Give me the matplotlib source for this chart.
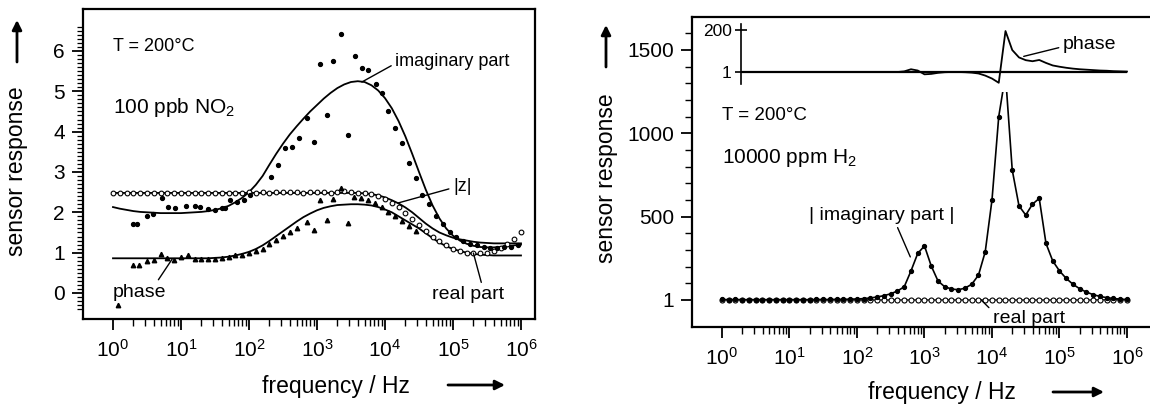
import matplotlib
matplotlib.use('Agg')
from matplotlib import pyplot as plt
from matplotlib.ticker import FixedLocator, NullFormatter

plt.rcParams['font.family'] = ['Liberation Sans', 'DejaVu Sans']
plt.rcParams['mathtext.default'] = 'regular'

# common frequency grid (log10 f / Hz), 10 points per decade
grid_logf = [0.0, 0.1, 0.2, 0.3, 0.4, 0.5, 0.6, 0.7, 0.8, 0.9,
             1.0, 1.1, 1.2, 1.3, 1.4, 1.5, 1.6, 1.7, 1.8, 1.9,
             2.0, 2.1, 2.2, 2.3, 2.4, 2.5, 2.6, 2.7, 2.8, 2.9,
             3.0, 3.1, 3.2, 3.3, 3.4, 3.5, 3.6, 3.7, 3.8, 3.9,
             4.0, 4.1, 4.2, 4.3, 4.4, 4.5, 4.6, 4.7, 4.8, 4.9,
             5.0, 5.1, 5.2, 5.3, 5.4, 5.5, 5.6, 5.7, 5.8, 5.9, 6.0]
decades = [0, 1, 2, 3, 4, 5, 6]

# ---------------- left: 100 ppb NO2 ----------------
imag_fit = [2.13, 2.09, 2.06, 2.03, 2.01, 2.00, 1.99, 1.98, 1.98, 1.98,
            1.98, 1.99, 2.00, 2.01, 2.03, 2.06, 2.10, 2.16, 2.25, 2.36,
            2.50, 2.68, 2.90, 3.18, 3.45, 3.70, 3.93, 4.13, 4.32, 4.50,
            4.66, 4.82, 4.96, 5.08, 5.17, 5.23, 5.25, 5.23, 5.15, 5.02,
            4.83, 4.58, 4.26, 3.88, 3.45, 3.00, 2.56, 2.17, 1.85, 1.60,
            1.42, 1.30, 1.22, 1.17, 1.14, 1.13, 1.13, 1.14, 1.16, 1.18, 1.20]
absz_fit = [2.48, 2.48, 2.48, 2.48, 2.48, 2.48, 2.48, 2.48, 2.48, 2.48,
            2.48, 2.48, 2.48, 2.48, 2.48, 2.48, 2.48, 2.48, 2.48, 2.48,
            2.48, 2.48, 2.48, 2.48, 2.48, 2.48, 2.48, 2.48, 2.48, 2.48,
            2.48, 2.48, 2.48, 2.48, 2.48, 2.48, 2.48, 2.47, 2.45, 2.42,
            2.37, 2.30, 2.22, 2.12, 2.00, 1.86, 1.72, 1.60, 1.50, 1.43,
            1.37, 1.33, 1.30, 1.27, 1.25, 1.24, 1.23, 1.23, 1.23, 1.23, 1.23]
phase_fit = [0.86, 0.86, 0.86, 0.86, 0.86, 0.86, 0.86, 0.86, 0.86, 0.86,
             0.86, 0.86, 0.86, 0.86, 0.86, 0.87, 0.88, 0.90, 0.93, 0.97,
             1.02, 1.09, 1.18, 1.29, 1.41, 1.53, 1.65, 1.77, 1.88, 1.97,
             2.05, 2.11, 2.15, 2.18, 2.19, 2.20, 2.20, 2.19, 2.17, 2.13,
             2.07, 2.00, 1.90, 1.80, 1.70, 1.60, 1.48, 1.36, 1.25, 1.16,
             1.09, 1.04, 1.00, 0.97, 0.95, 0.94, 0.93, 0.93, 0.93, 0.93, 0.93]
real_pts = [2.47, 2.48, 2.47, 2.48, 2.47, 2.48, 2.47, 2.48, 2.47, 2.48,
            2.47, 2.48, 2.47, 2.48, 2.47, 2.48, 2.47, 2.48, 2.47, 2.48,
            2.50, 2.49, 2.50, 2.49, 2.50, 2.50, 2.51, 2.50, 2.49, 2.50,
            2.51, 2.50, 2.49, 2.50, 2.52, 2.50, 2.49, 2.48, 2.45, 2.40,
            2.33, 2.24, 2.12, 1.98, 1.84, 1.68, 1.53, 1.40, 1.28, 1.18,
            1.10, 1.04, 1.00, 0.98, 0.98, 1.00, 1.05, 1.12, 1.22, 1.35, 1.50]
imag_pts_logf = [0.30, 0.36, 0.50, 0.59, 0.72, 0.81, 0.91, 1.08, 1.21, 1.28,
                 1.40, 1.50, 1.60, 1.65, 1.72, 1.82, 1.92, 2.01, 2.33, 2.43,
                 2.53, 2.63, 2.74, 2.85, 2.95, 3.04, 3.15, 3.24, 3.36, 3.46,
                 3.56, 3.66, 3.75, 3.87, 3.95, 4.05, 4.15, 4.25, 4.36, 4.46,
                 4.55, 4.65, 4.75, 4.85, 4.95, 5.05, 5.15, 5.25, 5.35, 5.45,
                 5.55, 5.65, 5.75, 5.85, 5.95]
imag_pts = [1.72, 1.72, 1.90, 1.95, 2.35, 2.14, 2.10, 2.16, 2.16, 2.13,
            2.08, 2.06, 2.10, 2.11, 2.31, 2.26, 2.31, 2.43, 2.88, 3.17,
            3.59, 3.63, 3.83, 4.33, 3.75, 5.67, 4.41, 5.75, 6.41, 3.92,
            5.88, 5.57, 5.53, 5.18, 4.97, 4.52, 4.08, 3.73, 3.23, 2.84,
            2.43, 2.20, 1.92, 1.70, 1.52, 1.40, 1.30, 1.22, 1.18, 1.15,
            1.12, 1.12, 1.13, 1.15, 1.18]
phase_pts_logf = [0.07, 0.30, 0.38, 0.50, 0.60, 0.70, 0.80, 0.90, 1.00, 1.10,
                  1.20, 1.30, 1.40, 1.50, 1.60, 1.70, 1.80, 1.90, 2.00, 2.10,
                  2.20, 2.30, 2.40, 2.50, 2.60, 2.70, 2.85, 2.95, 3.04, 3.14,
                  3.24, 3.35, 3.46, 3.55, 3.65, 3.75, 3.85, 3.95, 4.05, 4.15,
                  4.25, 4.35, 4.45]
phase_pts = [-0.30, 0.69, 0.70, 0.80, 0.82, 0.97, 0.86, 0.83, 0.90, 0.95,
             0.85, 0.84, 0.85, 0.84, 0.86, 0.90, 0.93, 0.95, 0.98, 1.03,
             1.10, 1.22, 1.32, 1.42, 1.50, 1.62, 1.77, 1.56, 2.31, 1.81,
             2.33, 2.60, 1.73, 2.39, 2.35, 2.30, 2.22, 2.12, 2.00, 1.90,
             1.78, 1.66, 1.53]

# ---------------- right: 10000 ppm H2 ----------------
h2_imag = [4, 3, 4, 3, 3, 3, 3, 3, 3, 3,
           3, 3, 3, 3, 4, 4, 4, 5, 5, 6,
           7, 9, 13, 19, 27, 38, 55, 80, 175, 280,
           325, 205, 115, 80, 67, 62, 72, 95, 150, 290,
           600, 1100, 1350, 780, 565, 510, 575, 610, 340, 235,
           175, 130, 95, 68, 48, 33, 22, 15, 10, 6, 4]
h2_real = [2, 2, 2, 2, 2, 2, 2, 2, 2, 2,
           2, 2, 2, 2, 2, 2, 2, 2, 2, 2,
           1, 1, 1, 1, 1, 1, 1, 1, 1, 1,
           1, 1, 1, 1, 1, 1, 1, 1, 1, 1,
           1, 1, 1, 1, 1, 1, 1, 1, 1, 1,
           1, 1, 1, 1, 1, 1, 2, 2, 2, 2, 2]
h2_phase_logf = grid_logf[3:]
h2_phase = [1, 1, 1, 1, 1, 1, 1, 1, 1, 1,
            1, 1, 1, 1, 1, 1, 1, 1, 1, 1,
            1, 1, 1, 1, 4, 14, 8, -10, -8, -3,
            0, 1, 1, 0, -2, -6, -16, -30, -50, 195,
            105, 70, 57, 52, 58, 44, 32, 26, 21, 17,
            14, 12, 10, 8, 7, 5, 4, 3]

W, H = 1150, 407
fig = plt.figure(figsize=(W / 100, H / 100), dpi=100)


def px_axes(left, top, right, bottom):
    return fig.add_axes([left / W, 1 - bottom / H, (right - left) / W, (bottom - top) / H])


def f(logs):
    return [10 ** v for v in logs]


def style_xaxis(ax):
    ax.set_xscale('log')
    ax.xaxis.set_major_locator(FixedLocator(f(decades)))
    ax.xaxis.set_minor_locator(FixedLocator([m * 10 ** d for d in decades[:-1] for m in range(2, 10)]))
    ax.xaxis.set_minor_formatter(NullFormatter())
    ax.set_xticklabels(['$10^{%d}$' % d for d in decades])
    ax.tick_params(axis='x', which='major', direction='out', length=8, width=1.3, labelsize=15, pad=6)
    ax.tick_params(axis='x', which='minor', direction='out', length=5, width=1.0)
    for s in ax.spines.values():
        s.set_linewidth(1.6)


# ---- left panel ----
ax1 = px_axes(83, 9, 535, 319)
ax1.plot(f(grid_logf), imag_fit, color='black', lw=1.3)
ax1.plot(f(grid_logf), absz_fit, color='black', lw=1.3)
ax1.plot(f(grid_logf), phase_fit, color='black', lw=1.3)
ax1.plot(f(grid_logf), real_pts, 'o', ms=3.4, mfc='white', mec='black', mew=0.8)
ax1.plot(f(imag_pts_logf), imag_pts, 'o', ms=2.8, color='black')
ax1.plot(f(phase_pts_logf), phase_pts, '^', ms=3.2, color='black')
style_xaxis(ax1)
ax1.set_xlim(10 ** -0.441, 10 ** 6.206)
ax1.set_ylim(-0.645, 7.04)
ax1.yaxis.set_major_locator(FixedLocator([0, 1, 2, 3, 4, 5, 6]))
ax1.yaxis.set_minor_locator(FixedLocator([v / 10 for v in range(-4, 67)]))
ax1.tick_params(axis='y', which='major', direction='out', length=8, width=1.3, labelsize=15, pad=5)
ax1.tick_params(axis='y', which='minor', direction='out', length=4, width=0.9)

ax1.text(1, 6.12, 'T = 200°C', fontsize=13, va='center')
ax1.text(1, 4.59, '100 ppb NO$_{2}$', fontsize=15, va='center')
line = dict(arrowstyle='-', color='black', lw=1.0, shrinkA=1, shrinkB=0)
ax1.annotate('imaginary part', xy=(10 ** 3.66, 5.23), xytext=(10 ** 4.15, 5.73),
             fontsize=13, ha='left', va='center', arrowprops=dict(line, relpos=(0, 0.4)))
ax1.annotate('|z|', xy=(10 ** 4.19, 2.23), xytext=(10 ** 5.0, 2.65),
             fontsize=13, ha='left', va='center', arrowprops=dict(line, relpos=(0, 0.4)))
ax1.annotate('phase', xy=(10 ** 0.87, 0.84), xytext=(10 ** 0.0, 0.02),
             fontsize=14, ha='left', va='center', arrowprops=dict(line, relpos=(0.8, 1.0)))
ax1.annotate('real part', xy=(10 ** 5.3, 0.99), xytext=(10 ** 4.69, -0.05),
             fontsize=14, ha='left', va='center', arrowprops=dict(line, relpos=(0.7, 1.0)))

# ---- right panel ----
ax2 = px_axes(692, 17, 1160, 327)
ax2.plot(f(grid_logf), h2_real, '-o', color='black', lw=0.9, ms=3.6, mfc='white', mew=0.8)
ax2.plot(f(grid_logf), h2_imag, '-o', color='black', lw=1.2, ms=2.8)
style_xaxis(ax2)
ax2.spines['right'].set_visible(False)
ax2.set_xlim(10 ** -0.444, 10 ** 6.489)
ax2.set_ylim(-161, 1697)
ax2.yaxis.set_major_locator(FixedLocator([1, 500, 1000, 1500]))
ax2.yaxis.set_minor_locator(FixedLocator([100, 200, 300, 400, 600, 700, 800, 900,
                                          1100, 1200, 1300, 1400, 1600]))
ax2.tick_params(axis='y', which='major', direction='out', length=8, width=1.3, labelsize=15, pad=5)
ax2.tick_params(axis='y', which='minor', direction='out', length=5, width=1.0)

ax2.text(1, 1109, 'T = 200°C', fontsize=13.5, va='center')
ax2.text(1, 852, '10000 ppm H$_{2}$', fontsize=15, va='center')
ax2.annotate('| imaginary part |', xy=(10 ** 2.79, 259), xytext=(10 ** 2.36, 510),
             fontsize=14, ha='center', va='center', arrowprops=dict(line, relpos=(0.6, 0.0)))
ax2.annotate('real part', xy=(10 ** 3.84, 1), xytext=(10 ** 4.01, -108),
             fontsize=14, ha='left', va='center', arrowprops=dict(line, relpos=(0.0, 0.9)))

# phase inset on top of the right panel
ax3 = px_axes(695, 19, 1160, 92)
ax3.set_facecolor('white')
ax3.set_xscale('log')
ax3.set_xlim(10 ** ((695 - 722) / 67.5), 10 ** 6.489)
ax3.set_ylim(-93.7, 252)
ax3.hlines(1, 10 ** h2_phase_logf[0], 10 ** h2_phase_logf[-1], color='black', lw=1.6)
ax3.plot(f(h2_phase_logf), h2_phase, color='black', lw=1.3)
for s in ['top', 'right', 'bottom']:
    ax3.spines[s].set_visible(False)
ax3.spines['left'].set_position(('data', 10 ** 0.28))
ax3.spines['left'].set_bounds(-55, 228)
ax3.spines['left'].set_linewidth(1.2)
ax3.set_xticks([])
ax3.set_xticks([], minor=True)
ax3.yaxis.set_major_locator(FixedLocator([1, 200]))
ax3.yaxis.set_minor_locator(FixedLocator([]))
ax3.tick_params(axis='y', direction='inout', length=9, width=1.2, labelsize=12.5, pad=2)
ax3.annotate('phase', xy=(10 ** 4.47, 75), xytext=(10 ** 5.05, 129),
             fontsize=14, ha='left', va='center', arrowprops=dict(line, relpos=(0, 0.4)))

# axis labels with arrows (figure pixels)
fig.text(17 / W, 1 - 171 / H, 'sensor response', rotation=90, ha='center', va='center', fontsize=16.5)
fig.text(606 / W, 1 - 178 / H, 'sensor response', rotation=90, ha='center', va='center', fontsize=16.5)
fig.text(336 / W, 1 - 387 / H, 'frequency / Hz', ha='center', va='center', fontsize=16.5)
fig.text(942 / W, 1 - 392 / H, 'frequency / Hz', ha='center', va='center', fontsize=16.5)
arrow = dict(arrowstyle='-|>', color='black', lw=2.0, mutation_scale=14, shrinkA=0, shrinkB=0)
for start, end in [((17, H - 62), (17, H - 20)), ((606, H - 67), (606, H - 25)),
                   ((448, H - 385), (505, H - 385)), ((1053, H - 392), (1104, H - 392))]:
    fig.add_artist(plt.Annotation('', xy=end, xytext=start, xycoords='figure pixels',
                                  textcoords='figure pixels', arrowprops=arrow))

fig.savefig('out.png', dpi=100)
